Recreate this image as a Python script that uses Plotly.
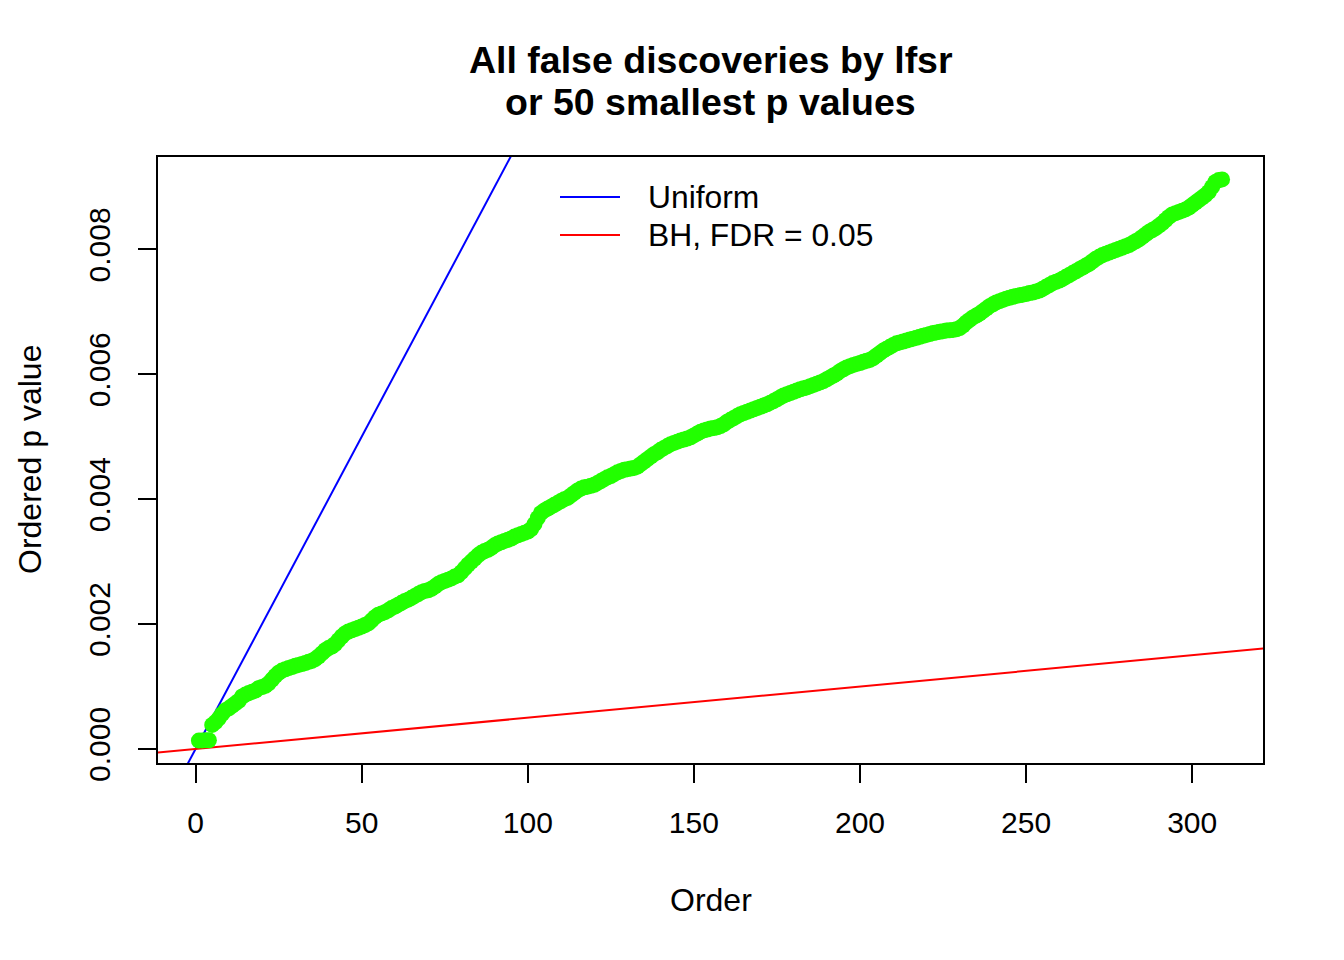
import plotly.graph_objects as go

# ---- data ----
order = list(range(1, 310))
p_values = [
    0.000134, 0.000136, 0.000137, 0.000139, 0.000385, 0.000430, 0.000490, 0.000560, 0.000620, 0.000650,
    0.000690, 0.000730, 0.000770, 0.000840, 0.000870, 0.000895, 0.000915, 0.000935, 0.000975, 0.000990,
    0.001010, 0.001050, 0.001110, 0.001170, 0.001220, 0.001255, 0.001275, 0.001295, 0.001310, 0.001330,
    0.001345, 0.001360, 0.001375, 0.001395, 0.001410, 0.001440, 0.001480, 0.001530, 0.001580, 0.001615,
    0.001640, 0.001680, 0.001740, 0.001800, 0.001850, 0.001880, 0.001900, 0.001920, 0.001940, 0.001960,
    0.001985, 0.002010, 0.002060, 0.002110, 0.002150, 0.002170, 0.002190, 0.002220, 0.002255, 0.002280,
    0.002310, 0.002340, 0.002370, 0.002390, 0.002420, 0.002450, 0.002480, 0.002510, 0.002530, 0.002540,
    0.002565, 0.002600, 0.002640, 0.002670, 0.002690, 0.002710, 0.002730, 0.002760, 0.002780, 0.002830,
    0.002890, 0.002950, 0.003000, 0.003050, 0.003100, 0.003140, 0.003170, 0.003190, 0.003220, 0.003260,
    0.003290, 0.003310, 0.003330, 0.003350, 0.003370, 0.003400, 0.003420, 0.003440, 0.003460, 0.003480,
    0.003520, 0.003600, 0.003700, 0.003780, 0.003820, 0.003850, 0.003880, 0.003910, 0.003940, 0.003970,
    0.004000, 0.004020, 0.004060, 0.004100, 0.004140, 0.004170, 0.004190, 0.004200, 0.004215, 0.004230,
    0.004260, 0.004290, 0.004320, 0.004350, 0.004370, 0.004400, 0.004430, 0.004450, 0.004470, 0.004480,
    0.004490, 0.004500, 0.004520, 0.004560, 0.004600, 0.004640, 0.004680, 0.004720, 0.004750, 0.004790,
    0.004820, 0.004850, 0.004880, 0.004900, 0.004920, 0.004940, 0.004955, 0.004970, 0.004990, 0.005020,
    0.005050, 0.005080, 0.005100, 0.005115, 0.005130, 0.005140, 0.005150, 0.005170, 0.005200, 0.005240,
    0.005270, 0.005300, 0.005330, 0.005360, 0.005380, 0.005400, 0.005420, 0.005440, 0.005460, 0.005480,
    0.005500, 0.005520, 0.005545, 0.005570, 0.005600, 0.005630, 0.005660, 0.005680, 0.005700, 0.005720,
    0.005740, 0.005760, 0.005775, 0.005790, 0.005810, 0.005830, 0.005850, 0.005870, 0.005890, 0.005920,
    0.005950, 0.005980, 0.006010, 0.006050, 0.006080, 0.006110, 0.006130, 0.006150, 0.006165, 0.006180,
    0.006200, 0.006215, 0.006230, 0.006260, 0.006300, 0.006340, 0.006380, 0.006410, 0.006440, 0.006470,
    0.006495, 0.006510, 0.006525, 0.006540, 0.006555, 0.006570, 0.006585, 0.006600, 0.006615, 0.006630,
    0.006645, 0.006660, 0.006670, 0.006680, 0.006690, 0.006700, 0.006705, 0.006710, 0.006720, 0.006740,
    0.006780, 0.006830, 0.006870, 0.006910, 0.006940, 0.006970, 0.007010, 0.007050, 0.007090, 0.007120,
    0.007150, 0.007170, 0.007190, 0.007210, 0.007225, 0.007240, 0.007255, 0.007265, 0.007275, 0.007285,
    0.007300, 0.007310, 0.007325, 0.007340, 0.007370, 0.007400, 0.007430, 0.007460, 0.007480, 0.007500,
    0.007530, 0.007560, 0.007590, 0.007620, 0.007650, 0.007680, 0.007710, 0.007740, 0.007770, 0.007810,
    0.007850, 0.007880, 0.007910, 0.007930, 0.007950, 0.007970, 0.007990, 0.008010, 0.008030, 0.008050,
    0.008070, 0.008100, 0.008130, 0.008160, 0.008200, 0.008240, 0.008280, 0.008310, 0.008340, 0.008380,
    0.008420, 0.008470, 0.008520, 0.008560, 0.008580, 0.008600, 0.008620, 0.008640, 0.008670, 0.008710,
    0.008750, 0.008790, 0.008830, 0.008870, 0.008920, 0.009000, 0.009080, 0.009110, 0.009120,
]
n_tests = 10000
fdr = 0.05
x_ticks = [0, 50, 100, 150, 200, 250, 300]
y_ticks = [0.000, 0.002, 0.004, 0.006, 0.008]
y_tick_labels = ["0.000", "0.002", "0.004", "0.006", "0.008"]
legend_labels = ["Uniform", "BH, FDR = 0.05"]
title_lines = ["All false discoveries by lfsr", "or 50 smallest p values"]

# ---- ranges (R style 4% expansion) ----
xr = [min(order), max(order)]
xpad = 0.04 * (xr[1] - xr[0])
x_range = [xr[0] - xpad, xr[1] + xpad]
yr = [min(p_values), max(p_values)]
ypad = 0.04 * (yr[1] - yr[0])
y_range = [yr[0] - ypad, yr[1] + ypad]

FONT = "Liberation Sans, Arial, Helvetica, sans-serif"

fig = go.Figure()

# reference lines (abline-like), clipped by the axes
line_x = [x_range[0] - 20, x_range[1] + 20]
fig.add_trace(go.Scatter(x=line_x, y=[v / n_tests for v in line_x], mode="lines",
                         line=dict(color="#0000FF", width=2), showlegend=False,
                         hoverinfo="skip"))
fig.add_trace(go.Scatter(x=line_x, y=[fdr * v / n_tests for v in line_x], mode="lines",
                         line=dict(color="#FF0000", width=2), showlegend=False,
                         hoverinfo="skip"))

# points
fig.add_trace(go.Scatter(x=order, y=p_values, mode="markers",
                         marker=dict(color="#22FF00", size=16, line=dict(width=0)),
                         showlegend=False, cliponaxis=True))

# page body has an 8px margin; figure placed at (8, 8)
OFF = 8
W, H = 1328, 944
PL, PR, PT, PB = 158, 1263, 157, 763  # plot area in page pixels
L = PL - OFF
T = PT - OFF
R = OFF + W - PR
B = OFF + H - PB
pw, ph = PR - PL, PB - PT

def px(xp):
    return (xp - PL) / pw

def py(yp):
    return (PB - yp) / ph

annotations = [
    dict(text="<b>%s</b>" % title_lines[0], x=0.5, y=py(60), xref="paper", yref="paper",
         showarrow=False, xanchor="center", yanchor="middle", font=dict(size=37.5, color="black", family=FONT)),
    dict(text="<b>%s</b>" % title_lines[1], x=0.5, y=py(102), xref="paper", yref="paper",
         showarrow=False, xanchor="center", yanchor="middle", font=dict(size=37.5, color="black", family=FONT)),
    dict(text="Order", x=0.5, y=py(900), xref="paper", yref="paper", showarrow=False,
         xanchor="center", yanchor="middle", font=dict(size=32, color="black", family=FONT)),
    dict(text="Ordered p value", x=px(30), y=0.5, xref="paper", yref="paper", showarrow=False,
         xanchor="center", yanchor="middle", textangle=-90, font=dict(size=32, color="black", family=FONT)),
]
shapes = []
legend_colors = ["#0000FF", "#FF0000"]
legend_y = [197, 235]
for lab, col, yy in zip(legend_labels, legend_colors, legend_y):
    shapes.append(dict(type="line", xref="paper", yref="paper", x0=px(560), x1=px(620),
                       y0=py(yy), y1=py(yy), line=dict(color=col, width=2)))
    annotations.append(dict(text=lab, x=px(646), y=py(yy), xref="paper", yref="paper",
                            showarrow=False, xanchor="left", yanchor="middle",
                            font=dict(size=31.8, color="black", family=FONT)))

fig.update_layout(
    width=W, height=H,
    margin=dict(l=L, r=R, t=T, b=B, autoexpand=False),
    paper_bgcolor="white", plot_bgcolor="white",
    font=dict(family=FONT, size=30, color="black"),
    annotations=annotations, shapes=shapes,
    xaxis=dict(range=x_range, tickmode="array", tickvals=x_ticks,
               ticktext=[str(v) for v in x_ticks],
               ticks="outside", ticklen=18, tickwidth=1.5, tickcolor="black",
               showline=True, linecolor="black", linewidth=1.5, mirror=True,
               showgrid=False, zeroline=False, ticklabelstandoff=14,
               tickfont=dict(size=30, family=FONT, color="black")),
    yaxis=dict(range=y_range, tickmode="array", tickvals=y_ticks, ticktext=y_tick_labels,
               ticks="outside", ticklen=18, tickwidth=1.5, tickcolor="black",
               showline=True, linecolor="black", linewidth=1.5, mirror=True,
               showgrid=False, zeroline=False, tickangle=-90, ticklabelstandoff=16,
               tickfont=dict(size=30, family=FONT, color="black")),
)

fig.write_html("out.html")
